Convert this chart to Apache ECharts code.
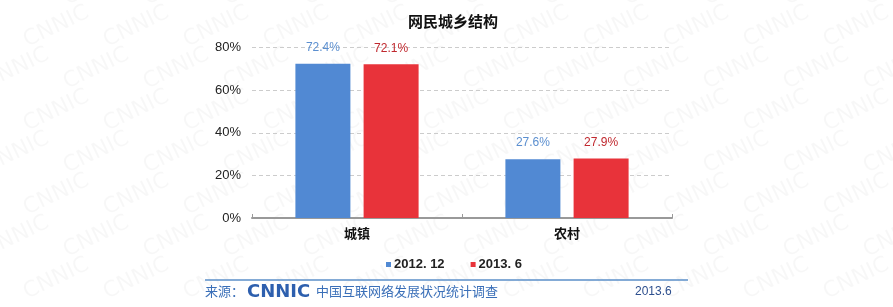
<!DOCTYPE html>
<html><head><meta charset="utf-8">
<script src="https://cdn.jsdelivr.net/npm/echarts@6/dist/echarts.min.js"></script>
<style>html,body{margin:0;padding:0;background:#fff}#c{width:893px;height:307px}</style>
</head><body><div id="c"></div>
<script>
const categories = ['城镇', '农村'];
const seriesNames = ['2012. 12', '2013. 6'];
const values2012 = [72.4, 27.6];
const values2013 = [72.1, 27.9];
const yTicks = [0, 20, 40, 60, 80];

const chart = echarts.init(document.getElementById('c'));
const wm = [];
for (let r = 0; r < 8; r++) {
  for (let c = 0; c < 12; c++) {
    wm.push({type: 'text', x: c * 80 - 20 + (r % 2) * 40, y: r * 42 - 10, rotation: 0.45, z: -10, silent: true,
      style: {text: 'CNNIC', fill: 'rgba(0,0,0,0.03)', font: '22px "DejaVu Sans"'}});
  }
}
const font = '"Liberation Sans", "Noto Sans CJK SC", sans-serif';
chart.setOption({
  animation: false,
  textStyle: {fontFamily: font},
  title: {text: '网民城乡结构', left: 448, top: 9, textAlign: 'center',
    textStyle: {fontSize: 15, fontWeight: 'bold', color: '#111', fontFamily: '"Noto Sans CJK SC", sans-serif'}},
  grid: {left: 252, right: 221, top: 47.5, bottom: 89},
  legend: {top: 253, left: 381, itemWidth: 5, itemHeight: 5, itemGap: 26, icon: 'rect',
    textStyle: {fontSize: 13, fontWeight: 'bold', color: '#222', padding: [0, 0, 0, -2]},
    data: seriesNames},
  xAxis: {type: 'category', data: categories,
    axisLine: {lineStyle: {color: '#999', width: 2}},
    axisTick: {show: true, inside: true, length: 4, lineStyle: {color: '#999'}},
    axisLabel: {fontSize: 13, fontWeight: 'bold', color: '#111', margin: 9,
      fontFamily: '"Noto Sans CJK SC", sans-serif'}},
  yAxis: {type: 'value', min: 0, max: 80, interval: 20,
    axisLine: {show: false}, axisTick: {show: false},
    axisLabel: {formatter: v => yTicks.includes(v) ? v + '%' : '', fontSize: 13, color: '#222', margin: 11},
    splitLine: {lineStyle: {color: '#ccc', type: [4, 3]}}},
  series: [
    {name: seriesNames[0], type: 'bar', data: values2012, barWidth: 55, barGap: '24%',
      itemStyle: {color: '#5189d3'},
      label: {show: true, position: 'top', distance: 10, formatter: p => p.value.toFixed(1) + '%', color: '#5b8fd0', fontSize: 12}},
    {name: seriesNames[1], type: 'bar', data: values2013, barWidth: 55,
      itemStyle: {color: '#e8333a'},
      label: {show: true, position: 'top', distance: 10, formatter: p => p.value.toFixed(1) + '%', color: '#c0282e', fontSize: 12}}
  ],
  graphic: wm.concat([
    {type: 'line', shape: {x1: 205, y1: 280, x2: 688, y2: 280}, style: {stroke: '#5b8fc9', lineWidth: 1.5}},
    {type: 'text', x: 205, y: 285, style: {text: '来源：', fill: '#3a6fb8', font: '13px "Noto Sans CJK SC"'}},
    {type: 'text', x: 247, y: 283, style: {text: 'CNNIC', fill: '#2d5fae', font: 'bold 18px "DejaVu Sans"'}},
    {type: 'text', x: 316, y: 285, style: {text: '中国互联网络发展状况统计调查', fill: '#3a6fb8', font: '13px "Noto Sans CJK SC"'}},
    {type: 'text', x: 635, y: 286, style: {text: '2013.6', fill: '#2d4f8e', font: '12px "Liberation Sans"'}}
  ])
});
</script></body></html>
